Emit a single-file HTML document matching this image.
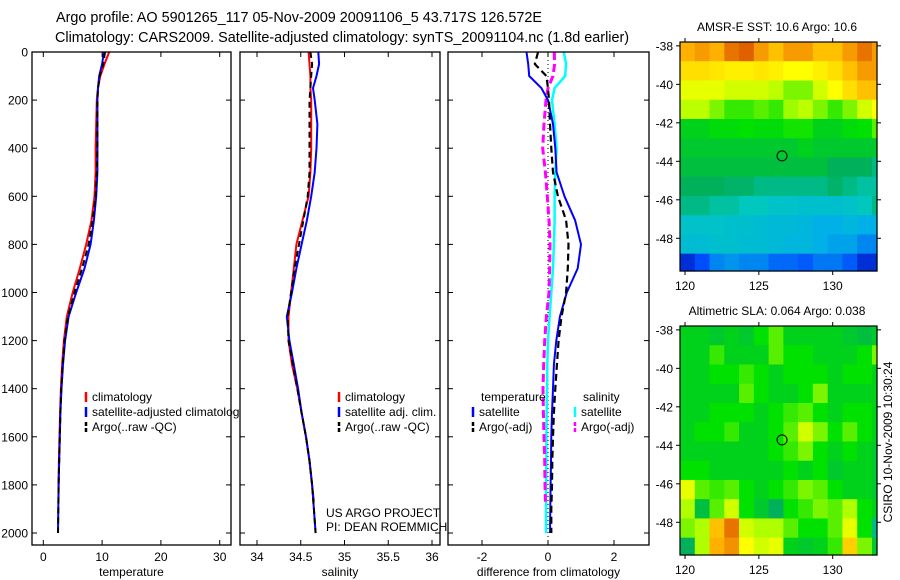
<!DOCTYPE html>
<html><head><meta charset="utf-8"><style>
html,body{margin:0;padding:0;background:#fff;}
svg{display:block;font-family:"Liberation Sans",sans-serif;}
</style></head><body>
<svg id="fig" width="900" height="580" viewBox="0 0 900 580" xmlns="http://www.w3.org/2000/svg">
<rect width="900" height="580" fill="#fff"/>
<text x="56" y="22" font-size="14.4" text-anchor="start">Argo profile: AO 5901265_117 05-Nov-2009 20091106_5 43.717S 126.572E</text>
<text x="55" y="42" font-size="14.4" text-anchor="start">Climatology: CARS2009. Satellite-adjusted climatology: synTS_20091104.nc (1.8d earlier)</text>
<g id="g"></g>
</svg>
<script>
// ---- data ----
const depths = [0,50,100,150,200,300,400,500,600,700,800,900,1000,1100,1200,1300,1400,1500,1600,1700,1800,1900,2000];
const climDepths = [0,50,100,150,200,300,400,500,600,700,800,900,1000,1100,1200,1300,1400,1500,1600,1700,1800,1870];
const satT = [10.3,10.0,9.5,9.3,9.2,9.2,9.2,9.2,9.0,8.6,8.05,7.0,5.6,4.3,3.7,3.35,3.1,2.9,2.8,2.7,2.6,2.55,2.5];
const climT = [11.2,10.4,9.7,9.3,9.1,9.0,8.9,8.9,8.7,8.2,7.3,6.2,5.0,4.0,3.5,3.2,3.0,2.85,2.75,2.65,2.6,2.58];
const argoT = [10.5,10.2,9.6,9.3,9.2,9.2,9.2,9.1,8.9,8.4,7.7,6.6,5.3,4.2,3.6,3.3,3.05,2.9,2.8,2.7,2.6,2.55,2.5];
const satS = [34.70,34.71,34.68,34.64,34.66,34.69,34.68,34.66,34.62,34.57,34.51,34.45,34.40,34.34,34.37,34.42,34.47,34.51,34.56,34.60,34.63,34.65,34.67];
const climS = [34.59,34.60,34.61,34.61,34.62,34.62,34.62,34.61,34.59,34.52,34.45,34.42,34.39,34.36,34.36,34.40,34.46,34.51,34.56,34.60,34.63,34.65];
const argoS = [34.61,34.63,34.62,34.61,34.60,34.60,34.60,34.60,34.58,34.53,34.48,34.43,34.39,34.35,34.36,34.41,34.46,34.51,34.56,34.60,34.63,34.65,34.67];
const satTd = [-0.65,-0.6,-0.57,-0.2,0.0,0.15,0.22,0.26,0.5,0.82,1.0,0.9,0.57,0.36,0.25,0.18,0.15,0.12,0.1,0.09,0.08,0.07,0.06];
const argoTd = [-0.3,-0.4,-0.05,0.0,0.03,0.06,0.1,0.15,0.3,0.55,0.62,0.6,0.55,0.41,0.32,0.27,0.22,0.18,0.15,0.13,0.12,0.1,0.1];
const satSd = [0.48,0.55,0.52,0.2,0.12,0.2,0.26,0.22,0.2,0.2,0.18,0.15,0.1,0.05,0.0,-0.02,-0.03,-0.04,-0.05,-0.05,-0.06,-0.06,-0.06];
const argoSd = [0.19,0.2,0.15,0.0,-0.06,-0.12,-0.16,-0.08,-0.02,0.03,0.06,0.05,0.03,-0.05,-0.1,-0.13,-0.15,-0.14,-0.12,-0.1,-0.09,-0.08];
const depthTicks = [0,200,400,600,800,1000,1200,1400,1600,1800,2000];
const tTicks = [0,10,20,30];
const sTicks = [34,34.5,35,35.5,36];
const sTickLabels = ["34","34.5","35","35.5","36"];
const dTicks = [-2,0,2];
const latTicks = [-38,-40,-42,-44,-46,-48];
const lonTicks = [120,125,130];
const sstGrid = [
[0.82,0.84,0.82,0.88,0.9,0.84,0.8,0.84,0.84,0.8,0.8,0.84,0.88,0.84],
[0.76,0.76,0.75,0.74,0.74,0.75,0.74,0.72,0.72,0.74,0.76,0.8,0.84,0.84],
[0.7,0.7,0.7,0.68,0.68,0.68,0.66,0.62,0.62,0.68,0.72,0.76,0.8,0.8],
[0.66,0.66,0.62,0.58,0.58,0.6,0.58,0.64,0.66,0.62,0.58,0.62,0.68,0.72],
[0.52,0.52,0.54,0.54,0.55,0.54,0.54,0.56,0.56,0.52,0.52,0.54,0.55,0.6],
[0.5,0.5,0.5,0.5,0.5,0.5,0.5,0.5,0.52,0.5,0.5,0.5,0.5,0.5],
[0.48,0.48,0.48,0.48,0.48,0.48,0.48,0.48,0.48,0.48,0.45,0.45,0.45,0.42],
[0.45,0.45,0.45,0.44,0.44,0.42,0.42,0.42,0.42,0.42,0.44,0.42,0.4,0.4],
[0.42,0.42,0.4,0.4,0.38,0.38,0.36,0.36,0.35,0.35,0.35,0.36,0.38,0.42],
[0.36,0.36,0.36,0.35,0.35,0.34,0.33,0.33,0.32,0.3,0.3,0.32,0.3,0.3],
[0.34,0.34,0.35,0.35,0.34,0.34,0.33,0.32,0.32,0.3,0.28,0.28,0.24,0.24],
[0.1,0.16,0.24,0.26,0.24,0.24,0.2,0.2,0.18,0.22,0.22,0.18,0.1,0.1]];
const slaGrid = [
[0.52,0.52,0.5,0.52,0.5,0.55,0.6,0.52,0.52,0.52,0.52,0.5,0.48,0.5],
[0.52,0.52,0.58,0.52,0.52,0.52,0.6,0.55,0.55,0.52,0.52,0.52,0.55,0.62],
[0.52,0.52,0.55,0.55,0.58,0.55,0.52,0.55,0.55,0.55,0.52,0.55,0.55,0.52],
[0.52,0.52,0.52,0.52,0.6,0.55,0.52,0.52,0.55,0.62,0.52,0.52,0.52,0.52],
[0.52,0.52,0.55,0.55,0.55,0.52,0.55,0.58,0.6,0.55,0.52,0.55,0.55,0.52],
[0.52,0.55,0.55,0.58,0.52,0.52,0.55,0.6,0.68,0.62,0.55,0.6,0.55,0.52],
[0.52,0.52,0.52,0.52,0.52,0.52,0.55,0.58,0.62,0.55,0.52,0.55,0.52,0.5],
[0.55,0.55,0.52,0.52,0.52,0.52,0.52,0.55,0.52,0.55,0.5,0.52,0.52,0.5],
[0.7,0.6,0.58,0.6,0.55,0.52,0.55,0.58,0.62,0.6,0.55,0.52,0.52,0.5],
[0.65,0.48,0.6,0.68,0.55,0.5,0.45,0.55,0.58,0.62,0.6,0.65,0.55,0.52],
[0.62,0.65,0.8,0.88,0.68,0.65,0.65,0.6,0.55,0.55,0.6,0.7,0.55,0.42],
[0.45,0.65,0.82,0.85,0.72,0.68,0.7,0.52,0.5,0.52,0.58,0.78,0.62,0.5]];
const floatLon = 126.57, floatLat = -43.72;

// ---- helpers ----
const NS = "http://www.w3.org/2000/svg";
const G = document.getElementById('g');
function mk(tag, attrs, parent){ const e=document.createElementNS(NS,tag); for(const k in attrs) e.setAttribute(k,attrs[k]); (parent||G).appendChild(e); return e; }
function txt(x,y,s,size,anchor,parent){ const t=mk('text',{x:x,y:y,'font-size':size||12,'text-anchor':anchor||'start'},parent); t.textContent=s; return t; }
const yD = d => 52 + d*0.2405;
const xT = v => 43.3 + v*5.88;
const xS = v => 257 + (v-34)*87.5;
const xDf = v => 548 + v*33;
const PTOP=52, PBOT=545;

function panel(name, x0, x1){
  const g = mk('g',{});
  
  
  const bg = mk('rect',{x:x0,y:PTOP,width:x1-x0,height:PBOT-PTOP,fill:'#fff'},g);
  
  
  return g;
}
function frame(name,g,x0,x1,xf,ticks,labels,xlabel,showY){
  mk('rect',{x:x0,y:PTOP,width:x1-x0,height:PBOT-PTOP,fill:'none',stroke:'#000','stroke-width':1.3},g);
  depthTicks.forEach(d=>{
    mk('line',{x1:x0,x2:x0+5,y1:yD(d),y2:yD(d),stroke:'#000'},g);
    mk('line',{x1:x1,x2:x1-5,y1:yD(d),y2:yD(d),stroke:'#000'},g);
    if(showY){ const t=txt(28,yD(d)+4.5,String(d),12,'end',g);
      
       }
  });
  ticks.forEach((v,i)=>{
    const x=xf(v);
    mk('line',{x1:x,x2:x,y1:PTOP,y2:PTOP+5,stroke:'#000'},g);
    mk('line',{x1:x,x2:x,y1:PBOT,y2:PBOT-5,stroke:'#000'},g);
    const t=txt(x,561,labels[i],12,'middle',g);
    
    
  });
  const xl=txt((x0+x1)/2,576,xlabel,12,'middle',g);
  
  
}
function line(g,name,xs,ds,xf,color,w,dash){
  const pts = xs.map((v,i)=>xf(v).toFixed(1)+','+yD(ds[i]).toFixed(1)).join(' ');
  const a={points:pts,fill:'none',stroke:color,'stroke-width':w,'stroke-linejoin':'round'};
  if(dash) a['stroke-dasharray']=dash;
  const p=mk('polyline',a,g);
  
  
}
function legend(g,x,y,color,dash,label,name){
  const a={x1:x,x2:x,y1:y-6,y2:y+4,stroke:color,'stroke-width':2.5};
  if(dash) a['stroke-dasharray']=dash;
  mk('line',a,g);
  const t=txt(x+6,y+3,label,12,'start',g);
  
  
}

// ---- panel 1: temperature ----
const p1 = panel('temperature-panel',32,231);
line(p1,'climatology-temperature-line',climT,climDepths,xT,'#f00',2);
line(p1,'satellite-temperature-line',satT,depths,xT,'#00f',2);
line(p1,'argo-temperature-line',argoT,depths,xT,'#000',2,'6,4');
legend(p1,86,398,'#f00',null,'climatology','legend-climatology');
legend(p1,86,413,'#00f',null,'satellite-adjusted climatology','legend-satellite-adjusted');
legend(p1,86,428,'#000','4,2','Argo(..raw -QC)','legend-argo-raw');
frame('temperature-panel',p1,32,231,xT,tTicks,tTicks.map(String),'temperature',true);

// ---- panel 2: salinity ----
const p2 = panel('salinity-panel',240,440);
line(p2,'climatology-salinity-line',climS,climDepths,xS,'#f00',2);
line(p2,'satellite-salinity-line',satS,depths,xS,'#00f',2);
line(p2,'argo-salinity-line',argoS,depths,xS,'#000',2,'6,4');
legend(p2,339,398,'#f00',null,'climatology','legend-sal-climatology');
legend(p2,339,413,'#00f',null,'satellite adj. clim.','legend-sal-satellite');
legend(p2,339,428,'#000','4,2','Argo(..raw -QC)','legend-sal-argo');
frame('salinity-panel',p2,240,440,xS,sTicks,sTickLabels,'salinity',false);

// ---- panel 3: difference ----
const p3 = panel('difference-panel',448,649);
const zl = mk('line',{x1:xDf(0),x2:xDf(0),y1:PTOP,y2:PBOT,stroke:'#000','stroke-dasharray':'1,3'},p3);


line(p3,'salinity-satellite-diff-line',satSd,depths,xDf,'#0ff',2.5);
line(p3,'salinity-argo-diff-line',argoSd,climDepths,xDf,'#f0f',3,'8,4');
line(p3,'temperature-satellite-diff-line',satTd,depths,xDf,'#00f',2);
line(p3,'temperature-argo-diff-line',argoTd,depths,xDf,'#000',2.2,'7,4');
const lt=txt(481,401,'temperature',12,'start',p3);
 
const ls=txt(583,401,'salinity',12,'start',p3);
 
legend(p3,473,413,'#00f',null,'satellite','legend-diff-t-satellite');
legend(p3,473,428,'#000','4,2','Argo(-adj)','legend-diff-t-argo');
legend(p3,575,413,'#0ff',null,'satellite','legend-diff-s-satellite');
legend(p3,575,428,'#f0f','4,2','Argo(-adj)','legend-diff-s-argo');
frame('difference-panel',p3,448,649,xDf,dTicks,dTicks.map(String),'difference from climatology',false);

const u1=txt(326,517,'US ARGO PROJECT',12);
 
const u2=txt(326,531,'PI: DEAN ROEMMICH',12);
 

// ---- maps ----
const stops=[[0,[0,0,128]],[0.15,[0,70,255]],[0.3,[0,176,230]],[0.38,[0,200,190]],[0.45,[0,176,90]],[0.55,[0,225,0]],[0.65,[176,255,0]],[0.72,[255,255,0]],[0.82,[255,176,0]],[0.9,[224,96,0]],[1,[160,48,0]]];
function cmap(v){
  for(let i=1;i<stops.length;i++){ if(v<=stops[i][0]){ const a=stops[i-1],b=stops[i],t=(v-a[0])/(b[0]-a[0]);
    return 'rgb('+a[1].map((c,k)=>Math.round(c+(b[1][k]-c)*t)).join(',')+')'; } }
  return 'rgb(160,48,0)';
}
const LON0=119.66, LON1=133.0, LAT0=-37.8, LAT1=-49.7;
function map(name,grid,top,bot,title,titleY){
  const g=mk('g',{});
  
  
  const xL = lon => 680 + (lon-LON0)/(LON1-LON0)*197;
  const yL = lat => top + (LAT0-lat)/(LAT0-LAT1)*(bot-top);
  grid.forEach((row,i)=>row.forEach((v,j)=>{
    const la=LAT0-i, lb=Math.max(LAT0-i-1,LAT1), lo=LON0+j, lo2=Math.min(LON0+j+1,LON1);
    const c=mk('rect',{x:xL(lo).toFixed(2),y:yL(la).toFixed(2),width:(xL(lo2)-xL(lo)+0.6).toFixed(2),height:(yL(lb)-yL(la)+0.6).toFixed(2),fill:cmap(v)},g);
    
    
  }));
  mk('rect',{x:680,y:top,width:197,height:bot-top,fill:'none',stroke:'#000','stroke-width':1.2},g);
  latTicks.forEach(l=>{ const y=yL(l);
    mk('line',{x1:680,x2:676,y1:y,y2:y,stroke:'#000'},g); mk('line',{x1:877,x2:881,y1:y,y2:y,stroke:'#000'},g);
    const t=txt(673,y+4.5,String(l),12,'end',g);   });
  lonTicks.forEach(l=>{ const x=xL(l);
    mk('line',{x1:x,x2:x,y1:top,y2:top-4,stroke:'#000'},g); mk('line',{x1:x,x2:x,y1:bot,y2:bot+4,stroke:'#000'},g);
    const t=txt(x,bot+19,String(l),12,'middle',g);   });
  const c=mk('circle',{cx:xL(floatLon),cy:yL(floatLat),r:5,fill:'none',stroke:'#000','stroke-width':1},g);
  
  
  const t=txt(777,titleY,title,12,'middle',g);
   
}
map('sst-map',sstGrid,42,271,'AMSR-E SST: 10.6  Argo: 10.6',31);
map('sla-map',slaGrid,326,555,'Altimetric SLA: 0.064  Argo: 0.038',315);
const ts=txt(0,0,'CSIRO 10-Nov-2009 10:30:24',12,'middle');
ts.setAttribute('transform','translate(892,442) rotate(-90)');


</script>
</body></html>
